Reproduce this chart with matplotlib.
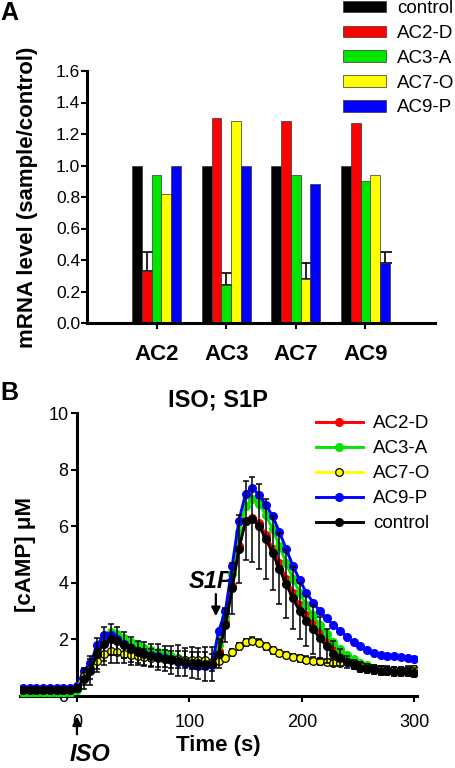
import numpy as np
import matplotlib
matplotlib.use("Agg")
from matplotlib import pyplot as plt
from matplotlib.patches import Patch

plt.rcParams['font.family'] = ['Liberation Sans', 'DejaVu Sans']

# panel A: mRNA levels
genes = ["AC2", "AC3", "AC7", "AC9"]
bar_labels = ["control", "AC2-D", "AC3-A", "AC7-O", "AC9-P"]
bar_colors = ["#000000", "#ff0000", "#00e600", "#ffff00", "#0000ff"]
control = [1.00, 1.00, 1.00, 1.00]
ac2_d = [0.33, 1.30, 1.28, 1.27]
ac3_a = [0.94, 0.24, 0.94, 0.90]
ac7_o = [0.82, 1.28, 0.28, 0.94]
ac9_p = [1.00, 1.00, 0.88, 0.38]
# upper error (only the knockdown bar of each gene has one)
ac2_d_err = [0.12, 0, 0, 0]
ac3_a_err = [0, 0.08, 0, 0]
ac7_o_err = [0, 0, 0.10, 0]
ac9_p_err = [0, 0, 0, 0.07]

# panel B: cAMP time course
time_s = [-48, -42, -36, -30, -24, -18, -12, -6, 0, 6, 12, 18, 24, 30, 36, 42, 48, 54,
          60, 66, 72, 78, 84, 90, 96, 102, 108, 114, 120, 126, 132, 138, 144, 150, 156,
          162, 168, 174, 180, 186, 192, 198, 204, 210, 216, 222, 228, 234, 240, 246, 252,
          258, 264, 270, 276, 282, 288, 294, 300]
camp_ac2 = [0.15, 0.15, 0.15, 0.15, 0.15, 0.15, 0.15, 0.15, 0.25, 0.65, 0.95, 1.55, 1.9, 2.05,
            2.0, 1.85, 1.7, 1.6, 1.52, 1.45, 1.4, 1.35, 1.3, 1.27, 1.22, 1.18, 1.15, 1.12,
            1.12, 1.6, 2.6, 3.9, 5.3, 6.2, 6.3, 6.1, 5.7, 5.2, 4.7, 4.15, 3.65, 3.2, 2.85,
            2.55, 2.25, 1.95, 1.7, 1.5, 1.32, 1.18, 1.08, 1.0, 0.95, 0.92, 0.9, 0.88, 0.87,
            0.86, 0.85]
camp_ac3 = [0.1, 0.1, 0.1, 0.1, 0.1, 0.1, 0.1, 0.1, 0.2, 0.7, 1.0, 1.6, 2.0, 2.25, 2.2, 2.05,
            1.92, 1.8, 1.7, 1.62, 1.55, 1.48, 1.42, 1.35, 1.28, 1.22, 1.18, 1.15, 1.15, 1.8,
            2.8, 4.3, 5.8, 6.7, 6.95, 6.8, 6.4, 5.9, 5.3, 4.7, 4.15, 3.65, 3.2, 2.85, 2.5,
            2.2, 1.9, 1.65, 1.45, 1.3, 1.18, 1.08, 1.0, 0.95, 0.92, 0.9, 0.88, 0.87, 0.86]
camp_ac7 = [0.2, 0.2, 0.2, 0.2, 0.2, 0.2, 0.2, 0.2, 0.3, 0.7, 0.95, 1.25, 1.5, 1.58, 1.55,
            1.5, 1.45, 1.4, 1.37, 1.35, 1.33, 1.32, 1.3, 1.3, 1.28, 1.27, 1.27, 1.27, 1.2,
            1.22, 1.35, 1.55, 1.75, 1.9, 1.95, 1.88, 1.75, 1.62, 1.52, 1.45, 1.38, 1.33,
            1.28, 1.25, 1.22, 1.2, 1.18, 1.18, 1.2, 1.15, 1.08, 1.02, 0.98, 0.95, 0.93,
            0.92, 0.92, 0.93, 0.95]
camp_ac9 = [0.28, 0.28, 0.27, 0.28, 0.28, 0.28, 0.27, 0.28, 0.35, 0.9, 1.15, 1.8, 2.15, 2.15,
            2.0, 1.85, 1.7, 1.6, 1.5, 1.45, 1.4, 1.35, 1.3, 1.2, 1.15, 1.1, 1.05, 1.05, 1.1,
            2.3, 3.0, 4.6, 6.2, 7.15, 7.35, 7.1, 6.75, 6.35, 5.8, 5.2, 4.6, 4.1, 3.65, 3.3,
            3.0, 2.75, 2.5, 2.3, 2.1, 1.9, 1.75, 1.62, 1.52, 1.46, 1.42, 1.4, 1.37, 1.35, 1.3]
camp_ctrl = [0.22, 0.22, 0.22, 0.22, 0.22, 0.22, 0.22, 0.22, 0.3, 0.6, 0.9, 1.5, 1.85, 2.0,
             1.95, 1.8, 1.65, 1.55, 1.5, 1.42, 1.38, 1.32, 1.28, 1.25, 1.2, 1.18, 1.15,
             1.12, 1.12, 1.5, 2.5, 3.8, 5.2, 6.2, 6.25, 6.0, 5.55, 5.05, 4.5, 3.95, 3.45,
             3.0, 2.65, 2.35, 2.05, 1.75, 1.5, 1.35, 1.2, 1.1, 1.0, 0.95, 0.92, 0.9, 0.88,
             0.86, 0.85, 0.84, 0.83]
ctrl_err = [0.05, 0.05, 0.05, 0.05, 0.05, 0.05, 0.05, 0.05, 0.1, 0.35, 0.5, 0.55, 0.6, 0.55,
            0.5, 0.45, 0.45, 0.4, 0.4, 0.4, 0.45, 0.45, 0.5, 0.55, 0.5, 0.55, 0.55, 0.6,
            0.6, 0.5, 0.6, 0.9, 1.2, 1.4, 1.5, 1.5, 1.4, 1.3, 1.25, 1.2, 1.1, 1.0, 0.9, 0.85,
            0.75, 0.6, 0.45, 0.3, 0.2, 0.15, 0.15, 0.15, 0.15, 0.15, 0.15, 0.15, 0.15, 0.15,
            0.15]
ac7_err = [0.05, 0.05, 0.05, 0.05, 0.05, 0.05, 0.05, 0.05, 0.1, 0.3, 0.35, 0.4, 0.4, 0.4,
           0.4, 0.35, 0.35, 0.3, 0.3, 0.3, 0.3, 0.3, 0.3, 0.3, 0.3, 0.3, 0.3, 0.3, 0.3, 0.1,
           0.1, 0.12, 0.12, 0.12, 0.12, 0.12, 0.12, 0.12, 0.12, 0.12, 0.12, 0.12, 0.12,
           0.12, 0.12, 0.12, 0.12, 0.12, 0.12, 0.12, 0.12, 0.12, 0.12, 0.12, 0.12, 0.12,
           0.12, 0.12, 0.12]

fig = plt.figure(figsize=(4.56, 7.68), dpi=100)

# ---------- A ----------
ax1 = fig.add_axes([87/456, 1-323/768, 348/456, 252/768])
x = np.arange(1, len(genes) + 1)
w = 0.14
bar_vals = [control, ac2_d, ac3_a, ac7_o, ac9_p]
bar_errs = [None, ac2_d_err, ac3_a_err, ac7_o_err, ac9_p_err]
for k, (vals, c) in enumerate(zip(bar_vals, bar_colors)):
    xs = x + (k - 2) * w
    ax1.bar(xs, vals, width=w, color=c, edgecolor='#333333', linewidth=0.5, zorder=2)
    if bar_errs[k] is not None:
        for xi, v, e in zip(xs, vals, bar_errs[k]):
            if e > 0:
                ax1.errorbar(xi, v, yerr=[[0], [e]], fmt='none', ecolor='k',
                             elinewidth=1.2, capsize=5, capthick=1.2, zorder=1)
ax1.set_xlim(0, 5)
ax1.set_ylim(0, 1.6)
ax1.set_yticks(np.arange(0, 1.61, 0.2))
ax1.set_yticklabels([f"{v:.1f}" for v in np.arange(0, 1.61, 0.2)])
ax1.set_xticks(x)
ax1.set_xticklabels(genes, fontsize=16, fontweight='bold')
ax1.tick_params(axis='y', labelsize=12.5, length=4, width=1.5, pad=1)
ax1.tick_params(axis='x', length=4, width=1.5, pad=11)
for s in ['top', 'right']:
    ax1.spines[s].set_visible(False)
for s in ['left', 'bottom']:
    ax1.spines[s].set_linewidth(2.2)
ax1.set_ylabel("mRNA level (sample/control)", fontsize=16, fontweight='bold')
ax1.yaxis.set_label_coords(-0.142, 0.5)

handles = [Patch(facecolor=c, edgecolor='#333333', linewidth=0.5) for c in bar_colors]
fig.legend(handles, bar_labels, loc='upper left', bbox_to_anchor=(343/456, 1.0),
           frameon=False, fontsize=13.5, handlelength=2.3, handleheight=0.55,
           handletextpad=0.6, labelspacing=0.42, borderpad=0, borderaxespad=0)
fig.text(0.0, 1 - 13/768, "A", fontsize=18, fontweight='bold', va='center')

# ---------- B ----------
ax2 = fig.add_axes([19.6/456, 72/768, 397/456, 283/768])
series = [
    ("AC2-D", camp_ac2, "#ff0000", 3),
    ("AC3-A", camp_ac3, "#00e600", 4),
    ("AC9-P", camp_ac9, "#0000ff", 5),
]
lines = {}
for name, vals, c, z in series:
    lines[name], = ax2.plot(time_s, vals, '-o', color=c, mfc=c, mec=c, lw=2.1, ms=5.5,
                            zorder=z)
ax2.errorbar(time_s, camp_ac7, yerr=ac7_err, fmt='none', ecolor='k', elinewidth=1.1,
             capsize=2.2, capthick=1.1, zorder=6)
lines["AC7-O"], = ax2.plot(time_s, camp_ac7, '-o', color='#ffff00', mfc='#ffff00', mec='k',
                           mew=0.9, lw=2.1, ms=5.5, zorder=6)
ax2.errorbar(time_s, camp_ctrl, yerr=ctrl_err, fmt='none', ecolor='k', elinewidth=1.1,
             capsize=2.2, capthick=1.1, zorder=7)
lines["control"], = ax2.plot(time_s, camp_ctrl, '-o', color='k', mfc='k', mec='k', lw=2.1,
                             ms=5.5, zorder=7)

ax2.set_xlim(-51, 302)
ax2.set_ylim(0, 10)
ax2.spines['left'].set_position(('data', 0))
for s in ['top', 'right']:
    ax2.spines[s].set_visible(False)
for s in ['left', 'bottom']:
    ax2.spines[s].set_linewidth(2.2)
ax2.set_xticks([0, 100, 200, 300])
ax2.set_yticks([0, 2, 4, 6, 8, 10])
ax2.tick_params(axis='both', labelsize=13, length=4, width=1.5)
ax2.tick_params(axis='y', pad=2)
ax2.tick_params(axis='x', pad=9)
ax2.set_title("ISO; S1P", fontsize=17, fontweight='bold', pad=5)
ax2.set_xlabel("Time (s)", fontsize=16, fontweight='bold', labelpad=3)
ax2.set_ylabel("[cAMP] \u03bcM", fontsize=16, fontweight='bold')
ax2.yaxis.set_label_coords(0.042, 0.5)

ax2.annotate("", xy=(0, -0.62), xytext=(0, -1.45), xycoords='data',
             arrowprops=dict(arrowstyle='-|>', color='k', lw=1.6, mutation_scale=13),
             annotation_clip=False)
ax2.text(12, -2.08, "ISO", fontsize=17, fontweight='bold', fontstyle='italic',
         ha='center', va='center', clip_on=False)
ax2.annotate("", xy=(123.5, 2.72), xytext=(123.5, 3.7), xycoords='data',
             arrowprops=dict(arrowstyle='-|>', color='k', lw=1.6, mutation_scale=13))
ax2.text(119, 4.06, "S1P", fontsize=17, fontweight='bold', fontstyle='italic',
         ha='center', va='center')

order = ["AC2-D", "AC3-A", "AC7-O", "AC9-P", "control"]
fig.legend([lines[n] for n in order], order, loc='upper left',
           bbox_to_anchor=(316/456, 1 - 415/768), frameon=False, fontsize=13.5,
           handlelength=2.5, handletextpad=0.55, labelspacing=0.42, borderpad=0,
           borderaxespad=0, numpoints=1)
fig.text(0.0, 1 - 393/768, "B", fontsize=18, fontweight='bold', va='center')

fig.savefig("out.png", dpi=100)
